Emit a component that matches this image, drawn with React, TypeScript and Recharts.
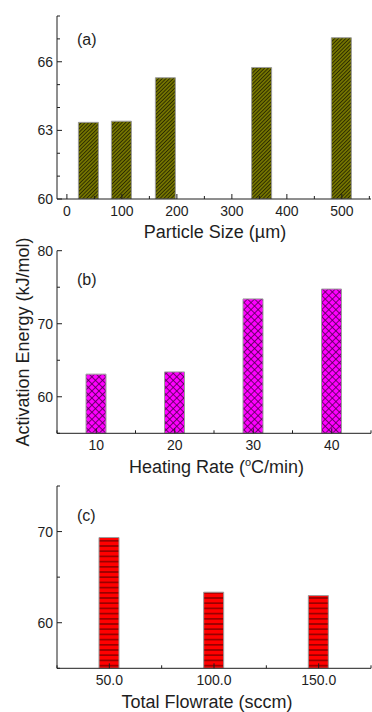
import React from 'react';
import { BarChart, Bar, XAxis, YAxis } from 'recharts';

// (a) particle size
const sizeX = [40, 100, 180, 355, 500];
const sizeE = [63.35, 63.4, 65.3, 65.75, 67.05];
const sizeXMajor = [0, 100, 200, 300, 400, 500];
const sizeXMinor = [50, 150, 250, 350, 450, 550];
const sizeEMajor = [60, 63, 66];
const sizeEMinor = [61, 62, 64, 65, 67, 68];

// (b) heating rate
const rateX = [10, 20, 30, 40];
const rateE = [63.1, 63.4, 73.4, 74.75];
const rateXMajor = [10, 20, 30, 40];
const rateXMinor = [5, 15, 25, 35, 45];
const rateEMajor = [60, 70, 80];
const rateEMinor = [55, 65, 75];

// (c) total flowrate
const flowX = [50, 100, 150];
const flowE = [69.35, 63.35, 62.98];
const flowXMajor = [50, 100, 150];
const flowXMinor = [25, 75, 125, 175];
const flowEMajor = [60, 70];
const flowEMinor = [55, 65, 75];

const FONT = '"Liberation Sans", Arial, sans-serif';
const INK = '#1e1e1e';
const W = 372;

const toRows = (xs: number[], es: number[]) => xs.map((x, i) => ({ x, e: es[i] }));
const allTicks = (a: number[], b: number[]) => [...a, ...b].sort((p, q) => p - q);

type Side = 'bottom' | 'top' | 'left' | 'right';

// draws inward tick marks (long for major, short for minor) plus labels on bottom/left
const tickRenderer = (side: Side, major: number[], fmt: (v: number) => string = String) =>
  (props: any) => {
    const { x, y, payload } = props;
    const v = payload.value as number;
    const isMajor = major.includes(v);
    const len = isMajor ? 5 : 3;
    let line;
    if (side === 'bottom') line = <line x1={x} y1={y} x2={x} y2={y - len} />;
    else if (side === 'top') line = <line x1={x} y1={y} x2={x} y2={y + len} />;
    else if (side === 'left') line = <line x1={x} y1={y} x2={x + len} y2={y} />;
    else line = <line x1={x} y1={y} x2={x - len} y2={y} />;
    let label = null;
    if (isMajor && side === 'bottom') {
      label = (
        <text x={x} y={y + 17} textAnchor="middle" fontSize={14} fill={INK} fontFamily={FONT}>
          {fmt(v)}
        </text>
      );
    } else if (isMajor && side === 'left') {
      label = (
        <text x={x - 4} y={y + 5} textAnchor="end" fontSize={14} fill={INK} fontFamily={FONT}>
          {fmt(v)}
        </text>
      );
    }
    return (
      <g>
        <g stroke={INK} strokeWidth={1}>{line}</g>
        {label}
      </g>
    );
  };

interface PanelProps {
  data: { x: number; e: number }[];
  height: number;
  top: number;
  xAxisHeight: number;
  xDomain: [number, number];
  yDomain: [number, number];
  xMajor: number[];
  xMinor: number[];
  yMajor: number[];
  yMinor: number[];
  fill: string;
  xFmt?: (v: number) => string;
  children?: React.ReactNode;
}

function Panel(p: PanelProps) {
  const xTicks = allTicks(p.xMajor, p.xMinor);
  const yTicks = allTicks(p.yMajor, p.yMinor);
  const axisLine = { stroke: INK, strokeWidth: 1 };
  return (
    <BarChart
      width={W}
      height={p.height}
      data={p.data}
      margin={{ top: p.top, right: 1, bottom: 0, left: 0 }}
    >
      <defs>
        <pattern id="hatchOlive" patternUnits="userSpaceOnUse" width="2.6" height="2.6" patternTransform="rotate(45)">
          <rect width="2.6" height="2.6" fill="#7a7a00" />
          <line x1="1.3" y1="0" x2="1.3" y2="2.6" stroke="#2a2a00" strokeWidth="1" />
        </pattern>
        <pattern id="crossMagenta" patternUnits="userSpaceOnUse" width="5" height="5" patternTransform="rotate(45)">
          <rect width="5" height="5" fill="#ff00ff" />
          <line x1="2.5" y1="0" x2="2.5" y2="5" stroke="#500050" strokeWidth="0.8" />
          <line x1="0" y1="2.5" x2="5" y2="2.5" stroke="#500050" strokeWidth="0.8" />
        </pattern>
        <pattern id="linesRed" patternUnits="userSpaceOnUse" width="6" height="5.2">
          <rect width="6" height="5.2" fill="#ff0000" />
          <line x1="0" y1="2.6" x2="6" y2="2.6" stroke="#3c0000" strokeWidth="0.9" />
        </pattern>
      </defs>
      <XAxis
        xAxisId="b"
        type="number"
        dataKey="x"
        domain={p.xDomain}
        allowDataOverflow
        ticks={xTicks}
        interval={0}
        height={p.xAxisHeight}
        axisLine={axisLine}
        tickLine={false}
        tickSize={0}
        tickMargin={0}
        tick={tickRenderer('bottom', p.xMajor, p.xFmt)}
      />
      <XAxis
        xAxisId="t"
        orientation="top"
        type="number"
        dataKey="x"
        domain={p.xDomain}
        allowDataOverflow
        ticks={xTicks}
        interval={0}
        height={0}
        axisLine={axisLine}
        tickLine={false}
        tickSize={0}
        tickMargin={0}
        tick={tickRenderer('top', p.xMajor)}
      />
      <YAxis
        yAxisId="l"
        type="number"
        domain={p.yDomain}
        allowDataOverflow
        ticks={yTicks}
        interval={0}
        width={57}
        axisLine={axisLine}
        tickLine={false}
        tickSize={0}
        tickMargin={0}
        tick={tickRenderer('left', p.yMajor)}
      />
      <YAxis
        yAxisId="r"
        orientation="right"
        type="number"
        domain={p.yDomain}
        allowDataOverflow
        ticks={yTicks}
        interval={0}
        width={0}
        axisLine={axisLine}
        tickLine={false}
        tickSize={0}
        tickMargin={0}
        tick={tickRenderer('right', p.yMajor)}
      />
      <Bar
        dataKey="e"
        xAxisId="b"
        yAxisId="l"
        barSize={20}
        fill={p.fill}
        stroke="#9c9c9c"
        strokeWidth={1}
        isAnimationActive={false}
      />
      {p.children}
    </BarChart>
  );
}

const textStyle = { fontFamily: FONT, fill: INK };

export default function App() {
  return (
    <div style={{ position: 'absolute', left: 0, top: 0, width: W, height: 712, background: '#fff', overflow: 'hidden' }}>
      <style>{'.recharts-surface { overflow: visible; }'}</style>
      <div style={{ position: 'absolute', left: 0, top: 0 }}>
        <Panel
          data={toRows(sizeX, sizeE)}
          height={246}
          top={16}
          xAxisHeight={47}
          xDomain={[-18, 553]}
          yDomain={[60, 68]}
          xMajor={sizeXMajor}
          xMinor={sizeXMinor}
          yMajor={sizeEMajor}
          yMinor={sizeEMinor}
          fill="url(#hatchOlive)"
        >
          <text x={77} y={44.5} fontSize={16} style={textStyle}>(a)</text>
          <text x={215} y={238} fontSize={18} textAnchor="middle" style={textStyle}>Particle Size (µm)</text>
        </Panel>
      </div>
      <div style={{ position: 'absolute', left: 0, top: 246 }}>
        <Panel
          data={toRows(rateX, rateE)}
          height={235}
          top={4.7}
          xAxisHeight={47.7}
          xDomain={[5, 45]}
          yDomain={[55, 80]}
          xMajor={rateXMajor}
          xMinor={rateXMinor}
          yMajor={rateEMajor}
          yMinor={rateEMinor}
          fill="url(#crossMagenta)"
        >
          <text x={77} y={39} fontSize={16} style={textStyle}>(b)</text>
          <text x={216.5} y={227} fontSize={18} textAnchor="middle" style={textStyle}>
            Heating Rate (<tspan fontSize={11} dy={-7}>o</tspan>
            <tspan dy={7}>C/min)</tspan>
          </text>
          <text
            x={0}
            y={0}
            fontSize={18}
            textAnchor="middle"
            transform="translate(28.5, 96) rotate(-90)"
            style={textStyle}
          >
            Activation Energy (kJ/mol)
          </text>
        </Panel>
      </div>
      <div style={{ position: 'absolute', left: 0, top: 481 }}>
        <Panel
          data={toRows(flowX, flowE)}
          height={231}
          top={5}
          xAxisHeight={43.7}
          xDomain={[25, 175]}
          yDomain={[55, 75]}
          xMajor={flowXMajor}
          xMinor={flowXMinor}
          yMajor={flowEMajor}
          yMinor={flowEMinor}
          fill="url(#linesRed)"
          xFmt={(v) => v.toFixed(1)}
        >
          <text x={77} y={40} fontSize={16} style={textStyle}>(c)</text>
          <text x={207} y={227} fontSize={18} textAnchor="middle" style={textStyle}>Total Flowrate (sccm)</text>
        </Panel>
      </div>
    </div>
  );
}
